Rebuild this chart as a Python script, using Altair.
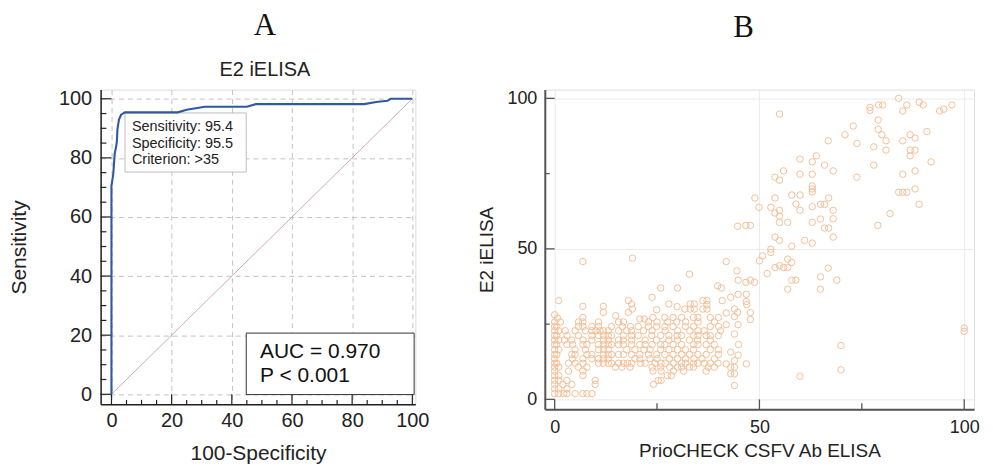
import altair as alt
import pandas as pd

# ---------------- Panel A: ROC curve of E2 iELISA ----------------
roc_fpr = [0, 0, 0.3, 0.6, 1.1, 1.5, 1.8, 2.0, 2.5, 3.2, 4.5, 22, 25, 31, 45, 48, 84, 88, 91.7, 92.8, 100]
roc_tpr = [0, 70.5, 72.5, 74.5, 81.6, 83.5, 85.6, 89.7, 93, 94.6, 95.4, 95.4, 96.3, 97.3, 97.3, 98.2, 98.2, 98.9, 99.3, 100, 100]
chance_x = [0, 100]
chance_y = [0, 100]
roc_major_ticks = [0, 20, 40, 60, 80, 100]
roc_minor_ticks = [5, 10, 15, 25, 30, 35, 45, 50, 55, 65, 70, 75, 85, 90, 95]
criterion_lines = ["Sensitivity: 95.4", "Specificity: 95.5", "Criterion: >35"]
auc_lines = ["AUC = 0.970", "P < 0.001"]

# ---------------- Panel B: scatter (PrioCHECK vs E2 iELISA) ----------------
upper_points = [
    (84, 100), (77, 97), (77, 96), (79.1, 97.8), (80.1, 97.8), (86, 97.8), (85, 95.8), (89, 98.7), (90, 97.8),
    (94, 95.8), (95, 96.4), (97, 97.8), (54.9, 94.8), (79, 92.8), (72.9, 90.8), (70.9, 87.9), (66.8, 85.9),
    (73.8, 85), (79, 89.7), (79.9, 87.9), (80.9, 85.9), (80.9, 82.8), (77.9, 83.9), (85, 85.9), (86.8, 87.9),
    (88, 86.8), (90.9, 89), (86.8, 82.8), (88, 82.8), (86.8, 80.9), (91.9, 78.9), (77.9, 77.8), (85, 74.8),
    (88, 75.9), (73.8, 73.8), (59.9, 79.8), (63.9, 80.9), (62.9, 78.9), (65.9, 77.8), (68, 75.9), (55.9, 75.9),
    (53.8, 73.8), (54.9, 72.8), (59.9, 74.8), (62.9, 74.8), (62.9, 70.9), (62.9, 69.9), (62.9, 68.9), (57.9, 67.9),
    (59.9, 67.9), (53.8, 66.9), (48.9, 66.9), (49.9, 63.8), (52.8, 63.8), (53.8, 61.9), (54.9, 62.8), (54.9, 60.8),
    (54.9, 58.8), (58.9, 64.9), (59.9, 62.8), (56.9, 58.8), (62.9, 64), (64.9, 64.8), (65.9, 64.8), (66.9, 66.9),
    (68, 62.8), (68, 60), (64.9, 59.9), (62.9, 58.8), (65.9, 56.9), (66.9, 56.9), (68, 53.9), (53.8, 53.9),
    (54.9, 52.8), (57.9, 50.9), (61, 52.8), (62.9, 51.9), (78.9, 57.8), (81.9, 61.7), (89, 64.8), (88, 69.9),
    (85, 68.8), (84, 68.8), (86, 68.8), (44.7, 57.5), (46.7, 57.8), (47.8, 57.8),
]
middle_points = [
    (50, 46), (50.8, 47.7), (52.8, 48.8), (52.8, 49.9), (51.9, 41.8), (53.8, 43.8), (54.9, 44.4), (55.9, 43.8),
    (56.9, 43.8), (56.9, 46.6), (57.9, 45.5), (57.9, 39.6), (58.9, 39.6), (56.9, 36.6), (64.9, 40.7), (64.9, 36.6),
    (66.8, 43.6), (68.9, 39.6), (69.9, 17.9), (69.9, 9.8), (59.9, 7.7), (100, 23.7), (100, 22.6),
    (41.9, 45.8), (44.5, 42.7), (44.8, 39.6), (46.7, 38.9), (47.8, 39.6), (48.8, 38.9),
    (44.8, 34.9), (46.8, 34.9), (46.8, 32.5), (46.9, 31.5), (44.7, 28.9), (47.8, 28.8), (47.8, 26.5),
    (44.8, 24.8), (44.8, 14.7), (46.8, 11.8),
    (32.9, 41.6), (39.8, 37.7), (40.7, 37), (25.9, 37), (23.8, 33.9), (30, 37), (24.9, 29.8), (27.9, 31.7),
    (29.9, 30.8), (31.8, 30), (33.1, 31.7), (34.1, 31.7), (33.1, 30), (34.1, 30), (36.2, 32.8), (37.2, 32.8),
    (36.2, 30), (37.2, 31.5), (37.2, 30), (40.9, 32.8), (43, 33.9), (41.9, 28.7), (43.9, 30), (43.9, 27.5),
    (41.9, 24.8), (43.9, 21.7), (44.9, 18.2), (43, 15.7), (41.9, 11.8), (43.9, 12.9), (43, 10.7), (43.9, 10.7),
    (43, 8.5), (43.9, 8.5), (43.9, 4.6),
    (6.9, 45.8), (19, 46.9), (1, 32.8), (6.9, 30.9), (11.9, 30.9), (11.9, 28.9), (18, 32.8), (18.8, 31.7),
    (19, 30), (18, 28.9), (14.9, 27.8), (20.8, 26.7), (21.9, 26.7), (0, 28.1), (0.7, 27),
]
cluster_rows_y = [1.9, 3.5, 5.0, 6.3, 7.9, 9.4, 10.7, 12.0, 13.5, 14.9, 16.5, 18.2, 19.7, 21.2, 22.8, 24.2, 25.7, 27.2]
cluster_rows_x = [
    [0, 1, 2.2, 3, 5, 6.9, 7.9, 9.1],
    [0, 1, 3],
    [0, 2, 4.2, 9.9, 24.1],
    [0, 1, 3, 9.9, 25.3, 26],
    [0, 1, 6.9, 27.5, 28.5],
    [0, 3.4, 6.9, 24, 26, 29, 31.5, 37],
    [0, 1, 5.8, 7.9, 14.8, 16.4, 18.4, 23.8, 25.9, 28.1, 30, 31, 32.9, 33.9, 37.5, 39],
    [0, 0.5, 3.4, 5, 6.9, 10.7, 11.9, 13.1, 13.9, 15.6, 16.8, 17.8, 18.8, 21, 22.1, 24.5, 26, 27, 29, 31, 32, 33.9, 35, 36.5, 38, 39.9],
    [0, 4.4, 6.9, 9.1, 10.7, 11.9, 13.1, 19.6, 20.8, 23.3, 25, 28, 30, 32, 34, 36, 39],
    [0, 0.5, 4.2, 5, 7.9, 9.1, 11.9, 13.1, 13.9, 15.6, 16.8, 18.8, 20.8, 22.9, 24.9, 26.9, 28.9, 31, 32.9, 35, 37, 40],
    [0, 1, 5, 7.5, 10.7, 11.9, 13.1, 17.6, 19.6, 21.8, 23.3, 25.9, 27.9, 30, 31.9, 33.9, 38, 40],
    [0, 0.5, 3, 4.4, 6.9, 7.9, 10.7, 11.9, 13.1, 13.9, 15.6, 16.8, 18.8, 20.8, 22.1, 23.8, 25.9, 26.9, 28.9, 31, 33.9, 35, 37, 39],
    [0, 1, 2.4, 4.2, 6.9, 9.1, 11.9, 13.1, 15.6, 16.8, 18.8, 22.1, 24.9, 27.9, 30, 32.9, 34.9, 38],
    [0, 0.5, 3, 5.8, 9.1, 10.7, 11.9, 13.1, 13.9, 16.8, 18.8, 20.4, 23.7, 25.9, 27.9, 29.9, 31, 33.9, 35, 37, 38, 40],
    [0, 1, 2.6, 5, 7.5, 9.1, 10.1, 11.1, 11.9, 13.1, 15.6, 17.6, 18.8, 21.7, 23.8, 27, 30, 33, 35, 36.5, 40.5],
    [0, 0.5, 5.8, 6.9, 9.1, 10.7, 13.9, 16.5, 18.5, 20.4, 22.9, 24.9, 26.9, 28.9, 31.9, 33.9, 38, 40],
    [0, 1.4, 5.8, 6.9, 10.7, 15.6, 16.8, 22.9, 25, 27.5, 29.8, 32, 35, 39],
    [6.9, 24, 26.9, 28.9, 31, 33.9, 35, 38, 40],
]
scatter_major_ticks = [0, 50, 100]
scatter_minor_ticks = [25, 75]

# ---------------- data frames ----------------
roc_df = pd.DataFrame({"fpr": roc_fpr, "tpr": roc_tpr})
chance_df = pd.DataFrame({"fpr": chance_x, "tpr": chance_y})
pts = list(upper_points) + list(middle_points)
for yv, row in zip(cluster_rows_y, cluster_rows_x):
    pts += [(xv, yv) for xv in row]
scatter_df = pd.DataFrame(pts, columns=["prio", "e2"])

FONT = "Liberation Sans"
INK = "#222222"

# ---------------- Panel A ----------------
XL = [-3.6, 101]
YL = [-3.4, 103.1]
xs_l = alt.Scale(domain=XL, nice=False, zero=False)
ys_l = alt.Scale(domain=YL, nice=False, zero=False)

x_axis_l = alt.Axis(values=roc_major_ticks, grid=True, gridDash=[5, 4], gridColor="#c2c2c2", gridWidth=1,
                    ticks=False, domainColor=INK, domainWidth=1.5, labelFont=FONT, labelFontSize=20,
                    labelColor=INK, labelPadding=6, title="100-Specificity", titleFont=FONT,
                    titleFontSize=21, titleFontWeight="normal", titleColor=INK, titlePadding=12)
y_axis_l = alt.Axis(values=roc_major_ticks, grid=True, gridDash=[5, 4], gridColor="#c2c2c2", gridWidth=1,
                    ticks=False, domainColor=INK, domainWidth=1.5, labelFont=FONT, labelFontSize=20,
                    labelColor=INK, labelPadding=9, title="Sensitivity", titleFont=FONT,
                    titleFontSize=21, titleFontWeight="normal", titleColor=INK, titlePadding=29)


def lx(field):
    return alt.X(field, scale=xs_l, axis=x_axis_l)


def ly(field):
    return alt.Y(field, scale=ys_l, axis=y_axis_l)


def lxd(v):
    return alt.XDatum(v, scale=xs_l, axis=x_axis_l)


def lyd(v):
    return alt.YDatum(v, scale=ys_l, axis=y_axis_l)


roc_line = alt.Chart(roc_df).mark_line(color="#2f5a9e", strokeWidth=2.1).encode(
    x=lx("fpr:Q"), y=ly("tpr:Q"), order="fpr:Q")
chance = alt.Chart(chance_df).mark_line(color="#c9a2a2", strokeWidth=0.9).encode(
    x=lx("fpr:Q"), y=ly("tpr:Q"))

maj_df = pd.DataFrame({"v": roc_major_ticks})
min_df = pd.DataFrame({"v": roc_minor_ticks})
tick_style = dict(color=INK, strokeWidth=1.2)
ytick_major = alt.Chart(maj_df).mark_rule(**tick_style).encode(
    y=ly("v:Q"), x=lxd(XL[0]), x2=alt.datum(0))
ytick_minor = alt.Chart(min_df).mark_rule(**tick_style).encode(
    y=ly("v:Q"), x=lxd(XL[0]), x2=alt.datum(-1.7))
xtick_major = alt.Chart(maj_df).mark_rule(**tick_style).encode(
    x=lx("v:Q"), y=lyd(YL[0]), y2=alt.datum(0))
xtick_minor = alt.Chart(min_df).mark_rule(**tick_style).encode(
    x=lx("v:Q"), y=lyd(YL[0]), y2=alt.datum(-1.9))

crit_box = alt.Chart(pd.DataFrame({"x": [4.5], "x2": [44.8], "y": [95.2], "y2": [75.2]})).mark_rect(
    fill="white", stroke="#bdbdbd", strokeWidth=1).encode(
    x=lx("x:Q"), x2="x2:Q", y=ly("y:Q"), y2="y2:Q")
crit_text = alt.Chart(pd.DataFrame({"t": criterion_lines, "x": [6.8] * 3, "y": [90.5, 84.8, 79.2]})).mark_text(
    align="left", baseline="middle", font=FONT, fontSize=14.5, color=INK).encode(
    x=lx("x:Q"), y=ly("y:Q"), text="t:N")

auc_box = alt.Chart(pd.DataFrame({"x": [44.8], "x2": [100.6], "y": [20.7], "y2": [-0.1]})).mark_rect(
    fill="white", stroke="#333333", strokeWidth=1).encode(
    x=lx("x:Q"), x2="x2:Q", y=ly("y:Q"), y2="y2:Q")
auc_text = alt.Chart(pd.DataFrame({"t": auc_lines, "x": [49.4] * 2, "y": [14.3, 6.2]})).mark_text(
    align="left", baseline="middle", font=FONT, fontSize=21, color="#111111").encode(
    x=lx("x:Q"), y=ly("y:Q"), text="t:N")

panel_a = alt.layer(
    chance, ytick_major, ytick_minor, xtick_major, xtick_minor,
    crit_box, auc_box, roc_line, crit_text, auc_text,
).properties(
    width=316, height=316,
    title=alt.Title("A", subtitle="E2 iELISA", font="Liberation Serif", fontSize=31, fontWeight="normal",
                    color="#111111", subtitleFont=FONT, subtitleFontSize=20, subtitleColor=INK,
                    subtitlePadding=18, offset=8, anchor="middle", frame="group", dx=7),
)

# ---------------- Panel B ----------------
XR = [-2.4, 102.4]
YR = [-3.3, 102.9]
xs_r = alt.Scale(domain=XR, nice=False, zero=False)
ys_r = alt.Scale(domain=YR, nice=False, zero=False)

x_axis_r = alt.Axis(values=scatter_major_ticks, grid=True, gridColor="#ebebeb", gridWidth=1, ticks=False,
                    domainColor="#555555", domainWidth=2, labelFont=FONT, labelFontSize=18, labelColor=INK,
                    labelPadding=9, title="PrioCHECK CSFV Ab ELISA", titleFont=FONT, titleFontSize=19,
                    titleFontWeight="normal", titleColor=INK, titlePadding=5)
y_axis_r = alt.Axis(values=scatter_major_ticks, grid=True, gridColor="#ebebeb", gridWidth=1, ticks=False,
                    domainColor="#555555", domainWidth=2, labelFont=FONT, labelFontSize=18, labelColor=INK,
                    labelPadding=8, title="E2 iELISA", titleFont=FONT, titleFontSize=19,
                    titleFontWeight="normal", titleColor=INK, titlePadding=10)


def rx(field):
    return alt.X(field, scale=xs_r, axis=x_axis_r)


def ry(field):
    return alt.Y(field, scale=ys_r, axis=y_axis_r)


scatter = alt.Chart(scatter_df).mark_point(shape="circle", filled=False, size=42, strokeWidth=1,
                                           color="#f1bf98", opacity=1).encode(
    x=rx("prio:Q"), y=ry("e2:Q"))
smaj_df = pd.DataFrame({"v": scatter_major_ticks})
smin_df = pd.DataFrame({"v": scatter_minor_ticks})
stick = dict(color="#555555", strokeWidth=1.3)
r_ytick_major = alt.Chart(smaj_df).mark_rule(**stick).encode(
    y=ry("v:Q"), x=alt.XDatum(XR[0], scale=xs_r, axis=x_axis_r), x2=alt.datum(0))
r_ytick_minor = alt.Chart(smin_df).mark_rule(**stick).encode(
    y=ry("v:Q"), x=alt.XDatum(XR[0], scale=xs_r, axis=x_axis_r), x2=alt.datum(-1.2))
r_xtick_major = alt.Chart(smaj_df).mark_rule(**stick).encode(
    x=rx("v:Q"), y=alt.YDatum(YR[0], scale=ys_r, axis=y_axis_r), y2=alt.datum(0))
r_xtick_minor = alt.Chart(smin_df).mark_rule(**stick).encode(
    x=rx("v:Q"), y=alt.YDatum(YR[0], scale=ys_r, axis=y_axis_r), y2=alt.datum(-1.3))

panel_b = alt.layer(
    scatter, r_ytick_major, r_ytick_minor, r_xtick_major, r_xtick_minor,
).properties(
    width=431, height=321,
    title=alt.Title("B", font="Liberation Serif", fontSize=31, fontWeight="normal", color="#111111",
                    offset=46, anchor="middle", frame="group", dx=-16),
)

chart = alt.hconcat(panel_a, panel_b, spacing=47).properties(
    padding={"left": 0, "top": 0, "right": 5, "bottom": 5}
).configure_view(strokeWidth=0, stroke="transparent").configure(background="white")

chart.save("out.html", embed_options={"renderer": "svg", "actions": False})
